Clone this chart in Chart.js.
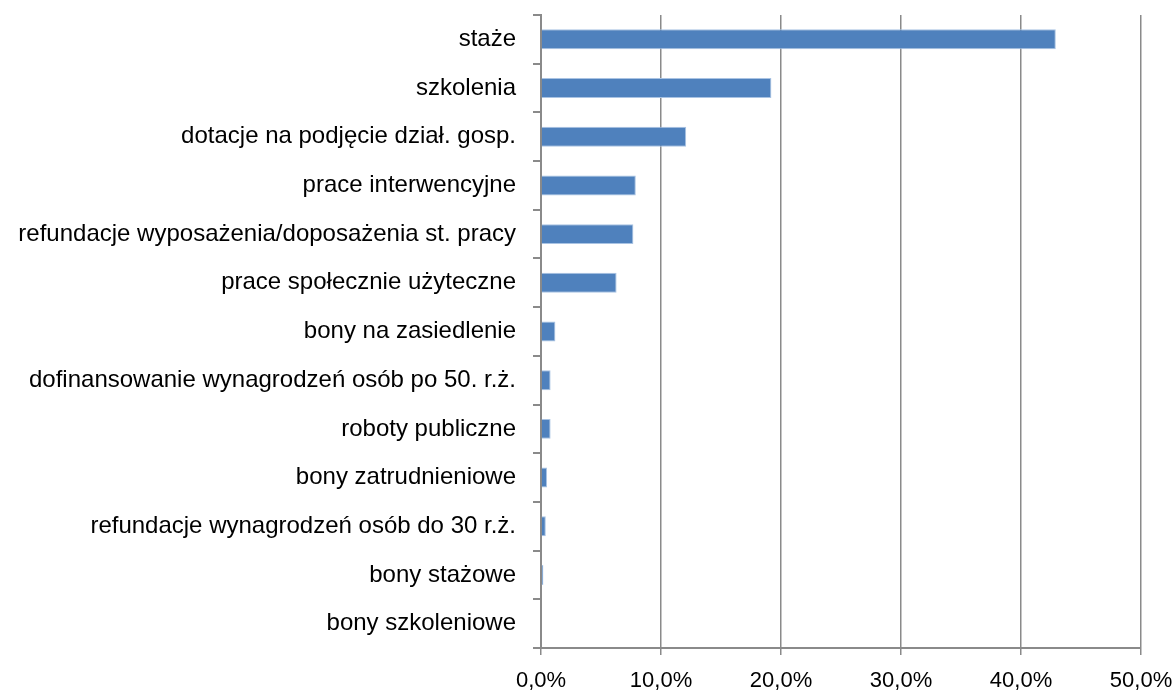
<!DOCTYPE html>
<html>
<head>
<meta charset="utf-8">
<script src="https://cdn.jsdelivr.net/npm/chart.js@4/dist/chart.umd.min.js"></script>
<style>
  html, body { margin: 0; padding: 0; background: #fff; }
  canvas { display: block; }
</style>
</head>
<body>
<canvas id="c" width="1176" height="695"></canvas>
<script>
// Forms of support, share of participants (%)
const categories = [
  'staże',
  'szkolenia',
  'dotacje na podjęcie dział. gosp.',
  'prace interwencyjne',
  'refundacje wyposażenia/doposażenia st. pracy',
  'prace społecznie użyteczne',
  'bony na zasiedlenie',
  'dofinansowanie wynagrodzeń osób po 50. r.ż.',
  'roboty publiczne',
  'bony zatrudnieniowe',
  'refundacje wynagrodzeń osób do 30 r.ż.',
  'bony stażowe',
  'bony szkoleniowe'
];
const shares = [42.9, 19.2, 12.1, 7.9, 7.7, 6.3, 1.2, 0.8, 0.8, 0.5, 0.4, 0.2, 0.0];
const xTicks = [0, 10, 20, 30, 40, 50];

const FONT = '"Liberation Sans Narrow", "Liberation Sans", Arial, sans-serif';
const GRID = '#8a8a8a';

// keep the plot area fixed: ignore the extra room Chart.js reserves for edge labels
const noEdgePadding = s => {
  s.paddingTop = 0; s.paddingBottom = 0; s.paddingLeft = 0; s.paddingRight = 0;
};

new Chart(document.getElementById('c'), {
  type: 'bar',
  data: {
    labels: categories,
    datasets: [{
      data: shares,
      backgroundColor: '#4f81bd',
      borderColor: '#a9c3e3',
      borderWidth: 1,
      borderSkipped: 'start',
      barPercentage: 0.82,
      categoryPercentage: 0.5
    }]
  },
  options: {
    indexAxis: 'y',
    responsive: false,
    animation: false,
    devicePixelRatio: 1,
    layout: { padding: { top: 15, right: 35, left: 0, bottom: 0 } },
    plugins: { legend: { display: false }, tooltip: { enabled: false } },
    scales: {
      x: {
        min: 0, max: 50,
        afterBuildTicks: s => { s.ticks = xTicks.map(v => ({ value: v })); },
        afterFit: s => { s.height = 47; noEdgePadding(s); },
        grid: { color: GRID, lineWidth: 1.5, tickLength: 7, drawTicks: true },
        border: { color: GRID, width: 2 },
        ticks: {
          color: '#000',
          padding: 13,
          font: { family: FONT, size: 22 },
          callback: v => v.toFixed(1).replace('.', ',') + '%'
        }
      },
      y: {
        afterFit: s => { s.width = 541; noEdgePadding(s); },
        grid: { offset: true, drawOnChartArea: false, color: GRID, lineWidth: 2, tickLength: 8 },
        border: { color: GRID, width: 2 },
        ticks: {
          color: '#000',
          padding: 17,
          font: { family: FONT, size: 24 }
        }
      }
    }
  }
});
</script>
</body>
</html>
